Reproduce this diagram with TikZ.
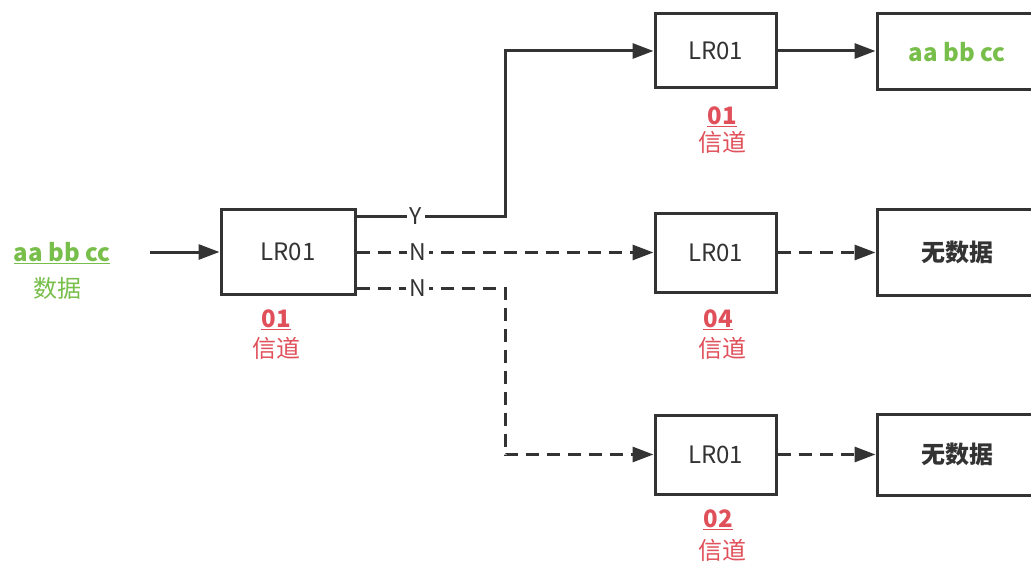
\documentclass[tikz,border=0pt]{standalone}
\usepackage{fontspec}
\setmainfont{Noto Sans CJK SC}
\usetikzlibrary{arrows.meta}
\definecolor{lc}{HTML}{333333}
\definecolor{grn}{HTML}{78BE4A}
\definecolor{rd}{HTML}{E0505A}
\begin{document}
\begin{tikzpicture}[x=1pt,y=-1pt]
\useasboundingbox (0,0) rectangle (1031,567);
\clip (0,0) rectangle (1031,567);
\tikzset{
  box/.style={draw=lc, line width=3pt, minimum width=121pt, minimum height=76pt, inner sep=0pt, font=\fontsize{24}{24}\selectfont, text=lc},
  conn/.style={draw=lc, line width=3pt, -{Triangle[length=21pt,width=15pt]}},
  dsh/.style={dash pattern=on 13pt off 8pt},
  lab/.style={fill=white, inner sep=3pt, font=\fontsize{23}{23}\selectfont, text=lc},
  num/.style={font=\bfseries\fontsize{24}{24}\selectfont, text=rd, inner sep=0pt},
  chn/.style={font=\fontsize{24}{24}\selectfont, text=rd, inner sep=0pt}
}
% boxes
\node[box, minimum width=134pt, minimum height=85pt] (L) at (288,251.5) {LR01};
\node[box, minimum height=74pt] (A) at (715.5,51) {LR01};
\node[box, minimum height=79pt] (B) at (715.5,252.5) {LR01};
\node[box, minimum height=79pt] (C) at (715.5,454.5) {LR01};
\node[box, minimum width=160pt, minimum height=76pt, font=\bfseries\fontsize{24}{24}\selectfont, text=grn] (RA) at (957,52) {aa bb cc};
\node[box, minimum width=160pt, minimum height=86pt, font=\bfseries\fontsize{24}{24}\selectfont] (RB) at (957,252) {无数据};
\node[box, minimum width=160pt, minimum height=81pt, font=\bfseries\fontsize{24}{24}\selectfont] (RC) at (957,454.5) {无数据};
% input labels
\node[font=\bfseries\fontsize{24}{24}\selectfont, text=grn, inner sep=0pt] (din) at (62,253) {\underline{aa bb cc}};
\node[font=\fontsize{24}{24}\selectfont, text=grn, inner sep=0pt] (dzh) at (57,288) {数据};
\coordinate (in) at (150,252);
% channel labels
\node[num] (nL) at (276,320) {\underline{01}};
\node[chn] (cL) at (276,348) {信道};
\node[num] (nA) at (722,117) {\underline{01}};
\node[chn] (cA) at (722,142) {信道};
\node[num] (nB) at (718,320) {\underline{04}};
\node[chn] (cB) at (722,348) {信道};
\node[num] (nC) at (718,520) {\underline{02}};
\node[chn] (cC) at (722,550) {信道};
% bend coordinates
\coordinate (ky0) at (505,216);
\coordinate (kn0) at (505,288);
% connectors
\draw[conn] (in) -- (in -| L.west);
\draw[conn] (L.east |- ky0) -- node[lab, pos=0.4] {Y} (ky0) |- (A.west);
\draw[conn, dsh] (L.east |- B.west) -- node[lab, pos=0.207] {N} (B.west);
\draw[conn, dsh] (L.east |- kn0) -- node[lab, pos=0.41] {N} (kn0) |- (C.west);
\draw[conn] (A.east) -- (A.east -| RA.west);
\draw[conn, dsh] (B.east) -- (B.east -| RB.west);
\draw[conn, dsh] (C.east) -- (C.east -| RC.west);
\end{tikzpicture}
\end{document}
